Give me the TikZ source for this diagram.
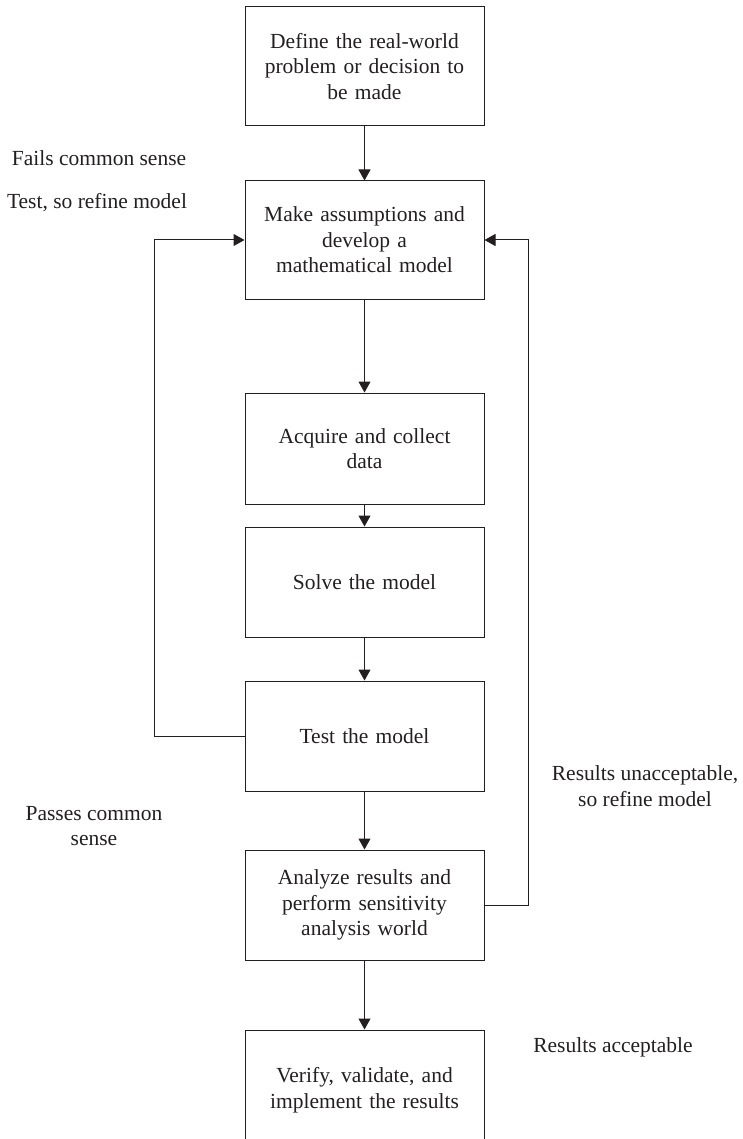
\documentclass[tikz,border=0pt]{standalone}
\usepackage{fontspec}
\setmainfont{Liberation Serif}
\usetikzlibrary{arrows.meta}
\definecolor{ink}{HTML}{231F20}
\begin{document}
\begin{tikzpicture}[x=1pt,y=-1pt,
  font=\fontsize{21.5}{25.5}\selectfont,
  every node/.style={text=ink},
  stepbox/.style={draw=ink, line width=1pt, minimum width=239pt, text width=225pt, align=center, inner sep=0pt},
  flow/.style={draw=ink, line width=1pt, -{Triangle[width=12pt,length=11pt]}},
  lbl/.style={align=center, inner sep=0pt}]
\useasboundingbox (0,0) rectangle (742,1139);
\node[stepbox, minimum height=119pt] (b1) at (364.5,66.5) {Define the real-world\\problem or decision to\\be made};
\node[stepbox, minimum height=118pt] (b2) at (364.5,240) {Make assumptions and\\develop a\\mathematical model};
\node[stepbox, minimum height=111pt] (b3) at (364.5,448.5) {Acquire and collect\\data};
\node[stepbox, minimum height=110pt] (b4) at (364.5,582) {Solve the model};
\node[stepbox, minimum height=110pt] (b5) at (364.5,736) {Test the model};
\node[stepbox, minimum height=110pt] (b6) at (364.5,905) {Analyze results and\\perform sensitivity\\analysis world};
\node[stepbox, minimum height=120pt] (b7) at (364.5,1090) {Verify, validate, and\\implement the results};
\draw[flow] (b1) -- (b2);
\draw[flow] (b2) -- (b3);
\draw[flow] (b3) -- (b4);
\draw[flow] (b4) -- (b5);
\draw[flow] (b5) -- (b6);
\draw[flow] (b6) -- (b7);
\coordinate (L) at (154,240);
\coordinate (R) at (528,240);
\draw[flow] (b5.west) -| (L) -- (b2.west);
\draw[flow] (b6.east) -| (R) -- (b2.east);
\node[lbl] (f1) at (99,158) {Fails common sense};
\node[lbl] (f2) at (97,203) {Test, so refine model};
\node[lbl] (p1) at (94,826) {Passes common\\sense};
\node[lbl] (u1) at (645,786) {Results unacceptable,\\so refine model};
\node[lbl] (a1) at (613,1047) {Results acceptable};
\end{tikzpicture}
\end{document}
